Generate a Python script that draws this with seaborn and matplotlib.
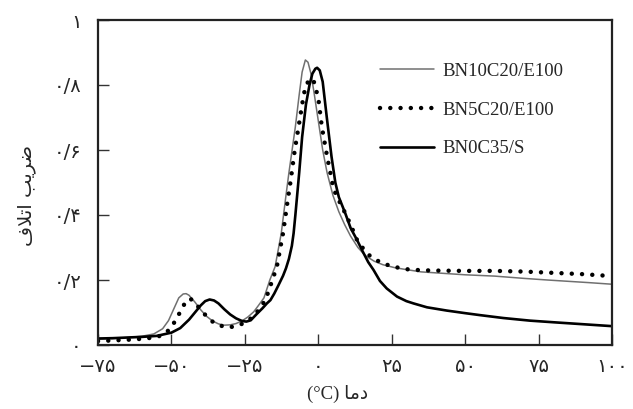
import matplotlib
matplotlib.use("Agg")
import matplotlib.pyplot as plt
import seaborn as sns

# ---- data ----
x_gray = [-75, -70, -65, -60, -56, -53, -51, -49, -47.5, -46, -45, -44, -42, -40, -38, -36, -34, -32, -30,
          -28, -26, -24, -22, -20.5, -18.5, -16.5, -14.7, -12.6, -11.2, -10, -8.6, -7.8, -6.5, -5.5, -4.4,
          -3.5, -2.5, -1.5, 0, 1.5, 3, 5, 7, 9, 11, 13.5, 16, 19, 22, 26, 30, 35, 40, 50, 60, 70, 78, 85, 92, 100]
y_gray = [0.018, 0.020, 0.023, 0.027, 0.034, 0.050, 0.075, 0.115, 0.145, 0.157, 0.158, 0.153, 0.132, 0.108,
          0.088, 0.074, 0.065, 0.061, 0.062, 0.066, 0.074, 0.086, 0.102, 0.120, 0.145, 0.200, 0.241, 0.344,
          0.446, 0.530, 0.620, 0.672, 0.770, 0.840, 0.877, 0.870, 0.835, 0.780, 0.690, 0.600, 0.530, 0.460,
          0.410, 0.370, 0.335, 0.300, 0.275, 0.258, 0.247, 0.238, 0.232, 0.225, 0.222, 0.216, 0.212, 0.205,
          0.200, 0.196, 0.192, 0.187]

x_dot = [-75, -70, -65, -60, -55, -52, -50, -48, -46, -44.5, -43.5, -42, -40, -38, -36, -34, -32, -30, -28,
         -26, -24, -22, -20.3, -18, -16, -14.1, -12, -10.4, -9.5, -8, -6.7, -5.5, -4.5, -3, -1.5, 0, 1.2, 3,
         5.2, 7, 9.2, 11, 13.2, 15, 17.5, 20, 23, 26, 30.3, 35, 40, 50, 60, 70, 80, 90, 100]
y_dot = [0.012, 0.014, 0.016, 0.019, 0.024, 0.036, 0.055, 0.085, 0.120, 0.140, 0.142, 0.130, 0.108, 0.088,
         0.072, 0.062, 0.056, 0.055, 0.058, 0.065, 0.075, 0.088, 0.108, 0.138, 0.190, 0.241, 0.344, 0.446,
         0.500, 0.600, 0.672, 0.740, 0.790, 0.820, 0.810, 0.760, 0.672, 0.580, 0.480, 0.445, 0.405, 0.370,
         0.323, 0.300, 0.275, 0.260, 0.248, 0.240, 0.233, 0.230, 0.229, 0.228, 0.228, 0.226, 0.222, 0.218, 0.212]

x_blk = [-75, -70, -65, -60, -55, -50, -47, -44, -42, -40, -38.5, -37, -35.5, -34, -32, -30, -28, -26, -24.5,
         -23, -21, -19, -17.5, -16.3, -15, -13.5, -12, -11, -10, -9, -8.4, -7.8, -7.3, -6.5, -5.5, -4.2, -3,
         -2, -1, -0.4, 0.5, 1.5, 2.9, 4.5, 5.8, 7, 9.2, 11, 13.2, 15, 17, 18.8, 21, 23.3, 26.8, 30, 32.4, 37,
         43.7, 50, 55, 63, 72, 80, 90, 100]
y_blk = [0.020, 0.021, 0.023, 0.025, 0.028, 0.038, 0.052, 0.078, 0.100, 0.122, 0.135, 0.140, 0.137, 0.128,
         0.110, 0.094, 0.082, 0.074, 0.072, 0.076, 0.095, 0.113, 0.128, 0.138, 0.158, 0.185, 0.213, 0.236,
         0.265, 0.305, 0.344, 0.400, 0.450, 0.530, 0.640, 0.740, 0.800, 0.835, 0.850, 0.853, 0.845, 0.810,
         0.700, 0.580, 0.500, 0.455, 0.405, 0.360, 0.323, 0.290, 0.255, 0.231, 0.197, 0.174, 0.149, 0.135,
         0.128, 0.116, 0.106, 0.098, 0.092, 0.083, 0.075, 0.070, 0.064, 0.058]

series_names = ["BN10C20/E100", "BN5C20/E100", "BN0C35/S"]
x_ticks = [-75, -50, -25, 0, 25, 50, 75, 100]
x_tick_labels = ["\u2212\u06f7\u06f5", "\u2212\u06f5\u06f0", "\u2212\u06f2\u06f5", "\u06f0",
                 "\u06f2\u06f5", "\u06f5\u06f0", "\u06f7\u06f5", "\u06f1\u06f0\u06f0"]
y_ticks = [0, 0.2, 0.4, 0.6, 0.8, 1.0]
y_tick_labels = ["\u06f0", "\u06f0/\u06f2", "\u06f0/\u06f4", "\u06f0/\u06f6", "\u06f0/\u06f8", "\u06f1"]
# visual-order, pre-shaped Persian labels
x_label = "(\u00b0C) \ufe8e\ufee3\ufea9"                      # دما (°C)
y_label = "\ufed1\ufefc\ufe97\ufe8d \ufe90\ufef3\ufeae\ufebf"  # ضریب اتلاف

sns.set_style("ticks")
plt.rcParams["font.family"] = ["Liberation Serif", "DejaVu Sans"]

fig = plt.figure(figsize=(6.33, 4.09), dpi=100)
ax = fig.add_axes([98 / 633, 64 / 409, 514 / 633, 325 / 409])

sns.lineplot(x=x_gray, y=y_gray, ax=ax, color="#707070", linewidth=1.1, label=series_names[0], sort=False)
sns.lineplot(x=x_dot, y=y_dot, ax=ax, color="black", linewidth=3.2, label=series_names[1], sort=False,
             linestyle=(0, (0.01, 2.3)), dash_capstyle="round")
sns.lineplot(x=x_blk, y=y_blk, ax=ax, color="black", linewidth=1.9, label=series_names[2], sort=False)

ax.set_xlim(-75, 100)
ax.set_ylim(0, 1)
ax.set_xticks(x_ticks)
ax.set_xticklabels(x_tick_labels, family=["DejaVu Sans"], fontsize=14)
ax.set_yticks(y_ticks)
ax.set_yticklabels(y_tick_labels, family=["DejaVu Sans"], fontsize=14)
ax.tick_params(direction="in", length=8, width=1, color="#333333")
ax.tick_params(axis="x", pad=9)
ax.tick_params(axis="y", pad=12)
for s in ax.spines.values():
    s.set_color("#222222")
    s.set_linewidth(1.6)
    s.set_visible(True)

ax.set_xlabel(x_label, fontsize=13.5)
ax.xaxis.set_label_coords(0.467, -0.122)
ax.set_ylabel(y_label, fontsize=14, family=["DejaVu Sans"])
ax.yaxis.set_label_coords(-0.12, 0.46)

leg = ax.legend(loc="upper left", bbox_to_anchor=(0.515, 0.92), frameon=False,
                fontsize=13.5, handlelength=2.9, handletextpad=0.45, labelspacing=1.15)

fig.savefig("out.png", dpi=100)
